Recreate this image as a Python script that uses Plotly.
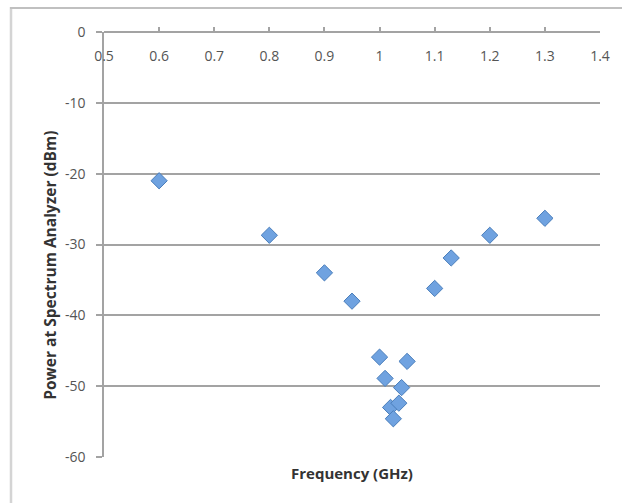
import plotly.graph_objects as go

# Measured output power versus drive frequency
frequency_ghz = [0.6, 0.8, 0.9, 0.95, 1.0, 1.01, 1.02, 1.025, 1.035, 1.04, 1.05, 1.1, 1.13, 1.2, 1.3]
power_dbm = [-21.0, -28.7, -34.0, -38.0, -45.9, -48.9, -53.0, -54.6, -52.4, -50.2, -46.5, -36.2, -31.9, -28.7, -26.3]

x_ticks = [0.5, 0.6, 0.7, 0.8, 0.9, 1.0, 1.1, 1.2, 1.3, 1.4]
x_tick_text = ["0.5", "0.6", "0.7", "0.8", "0.9", "1", "1.1", "1.2", "1.3", "1.4"]
y_ticks = [0, -10, -20, -30, -40, -50, -60]
y_tick_text = ["0", "-10", "-20", "-30", "-40", "-50", "-60"]

FONT = "Open Sans, Calibri, Arial, sans-serif"
GRID = "#a3a3a3"
TEXT = "#333333"
TICK_TEXT = "#555555"

fig = go.Figure()
fig.add_trace(go.Scatter(
    x=frequency_ghz,
    y=power_dbm,
    mode="markers",
    marker=dict(symbol="diamond", size=12.5, color="#6fa2e0",
                line=dict(color="#4a7ebb", width=1)),
    showlegend=False,
    hoverinfo="x+y",
))

W, H = 622, 503
ml, mr, mt, mb = 104, 22, 32, 45.5
pw, ph = W - ml - mr, H - mt - mb


def px_x(x):
    return (x - ml) / pw


def px_y(y):
    return 1 - (y - mt) / ph


fig.update_layout(
    width=W, height=H,
    margin=dict(l=ml, r=mr, t=mt, b=mb),
    paper_bgcolor="white",
    plot_bgcolor="white",
    font=dict(family=FONT, size=14, color=TICK_TEXT),
    xaxis=dict(
        range=[0.5, 1.4],
        tickvals=x_ticks, ticktext=x_tick_text,
        anchor="free", position=1, side="bottom",
        ticks="inside", ticklen=4, tickcolor=GRID, tickwidth=1.5,
        ticklabelstandoff=11,
        showline=True, linecolor=GRID, linewidth=1.5,
        showgrid=False, zeroline=False,
        tickfont=dict(size=14, color=TICK_TEXT),
    ),
    yaxis=dict(
        range=[-60, 0],
        tickvals=y_ticks, ticktext=y_tick_text,
        ticks="outside", ticklen=6, tickcolor=GRID, tickwidth=1.5,
        ticklabelstandoff=8,
        showline=True, linecolor=GRID, linewidth=1.5,
        showgrid=True, gridcolor=GRID, gridwidth=1.5,
        zeroline=False,
        tickfont=dict(size=14, color=TICK_TEXT),
    ),
    annotations=[
        dict(text="<b>Frequency (GHz)</b>",
             xref="paper", yref="paper", x=px_x(352), y=px_y(474),
             xanchor="center", yanchor="middle", showarrow=False,
             font=dict(size=15, color=TEXT)),
        dict(text="<b>Power at Spectrum Analyzer (dBm)</b>",
             xref="paper", yref="paper", x=px_x(50), y=px_y(266),
             xanchor="center", yanchor="middle", showarrow=False,
             textangle=-90, font=dict(size=15.5, color=TEXT)),
    ],
    shapes=[
        # chart frame (left and top edges)
        dict(type="line", xref="paper", yref="paper",
             x0=px_x(11), x1=px_x(11), y0=px_y(7), y1=px_y(H + 5),
             line=dict(color="#d4d4d4", width=2.5)),
        dict(type="line", xref="paper", yref="paper",
             x0=px_x(10), x1=px_x(W + 5), y0=px_y(8), y1=px_y(8),
             line=dict(color="#c0c0c0", width=2)),
    ],
)

fig.write_html("out.html")
